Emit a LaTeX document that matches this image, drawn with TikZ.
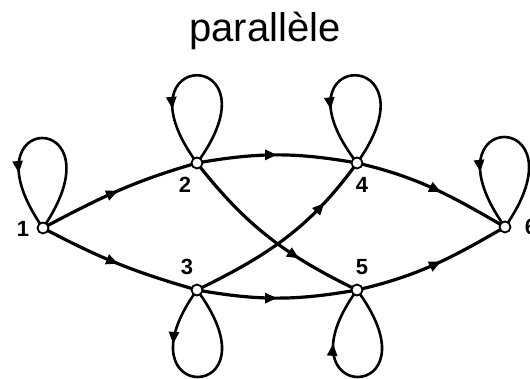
\documentclass[tikz,border=0pt]{standalone}
\usepackage{fontspec}
\setmainfont{Liberation Sans}
\usetikzlibrary{decorations.markings,arrows.meta}
\tikzset{
  vert/.style={circle,draw=black,fill=white,line width=1.8pt,inner sep=0pt,minimum size=11pt},
  lab/.style={font=\fontsize{22}{22}\selectfont\bfseries,inner sep=0pt},
  edge/.style={line width=3.2pt,postaction={decorate},
    decoration={markings,mark=at position #1 with {\arrow{Triangle[length=12pt,width=10pt]}}}},
  edge/.default=0.55,
  loopline/.style={line width=2.6pt,postaction={decorate},
    decoration={markings,mark=at position #1 with {\arrow{Triangle[length=12pt,width=10pt]}}}},
}
\begin{document}
\begin{tikzpicture}[x=1pt,y=1pt]
\useasboundingbox (0,0) rectangle (530,379);
\node[font=\fontsize{40}{40}\selectfont,anchor=base] (title) at (265,337) {parallèle};
% vertex positions
\coordinate (p1) at (43,151);
\coordinate (p2) at (197,216);
\coordinate (p3) at (197,89);
\coordinate (p4) at (357,216);
\coordinate (p5) at (357,89);
\coordinate (p6) at (505,152);
% loops
\draw[loopline=0.72] (p1) .. controls (125,271) and (-41,271) .. (p1);
\draw[loopline=0.72] (p2) .. controls (283,333) and (111,333) .. (p2);
\draw[loopline=0.72] (p4) .. controls (441,333) and (267,333) .. (p4);
\draw[loopline=0.72] (p6) .. controls (589,272) and (419,272) .. (p6);
\draw[loopline=0.28] (p3) .. controls (113,-27) and (283,-27) .. (p3);
\draw[loopline=0.72] (p5) .. controls (443,-27) and (273,-27) .. (p5);
% edges
\draw[edge=0.5] (p1) to[out=28,in=196] (p2);
\draw[edge=0.5] (p1) to[out=-28,in=164] (p3);
\draw[edge=0.5] (p2) to[out=10,in=170] (p4);
\draw[edge=0.5] (p3) to[out=-10,in=190] (p5);
\draw[edge=0.55] (p4) to[out=-13,in=150] (p6);
\draw[edge=0.55] (p5) to[out=13,in=210] (p6);
\draw[edge=0.68] (p2) to[out=-52,in=154] (p5);
\draw[edge=0.75] (p3) to[out=26,in=234] (p4);
% vertices
\node[vert] (n1) at (p1) {};
\node[vert] (n2) at (p2) {};
\node[vert] (n3) at (p3) {};
\node[vert] (n4) at (p4) {};
\node[vert] (n5) at (p5) {};
\node[vert] (n6) at (p6) {};
% labels
\node[lab] (l1) at (23,150) {1};
\node[lab] (l2) at (185,194) {2};
\node[lab] (l3) at (187,112) {3};
\node[lab] (l4) at (362,194) {4};
\node[lab] (l5) at (362,112) {5};
\node[lab] (l6) at (531,152) {6};
\end{tikzpicture}
\end{document}
